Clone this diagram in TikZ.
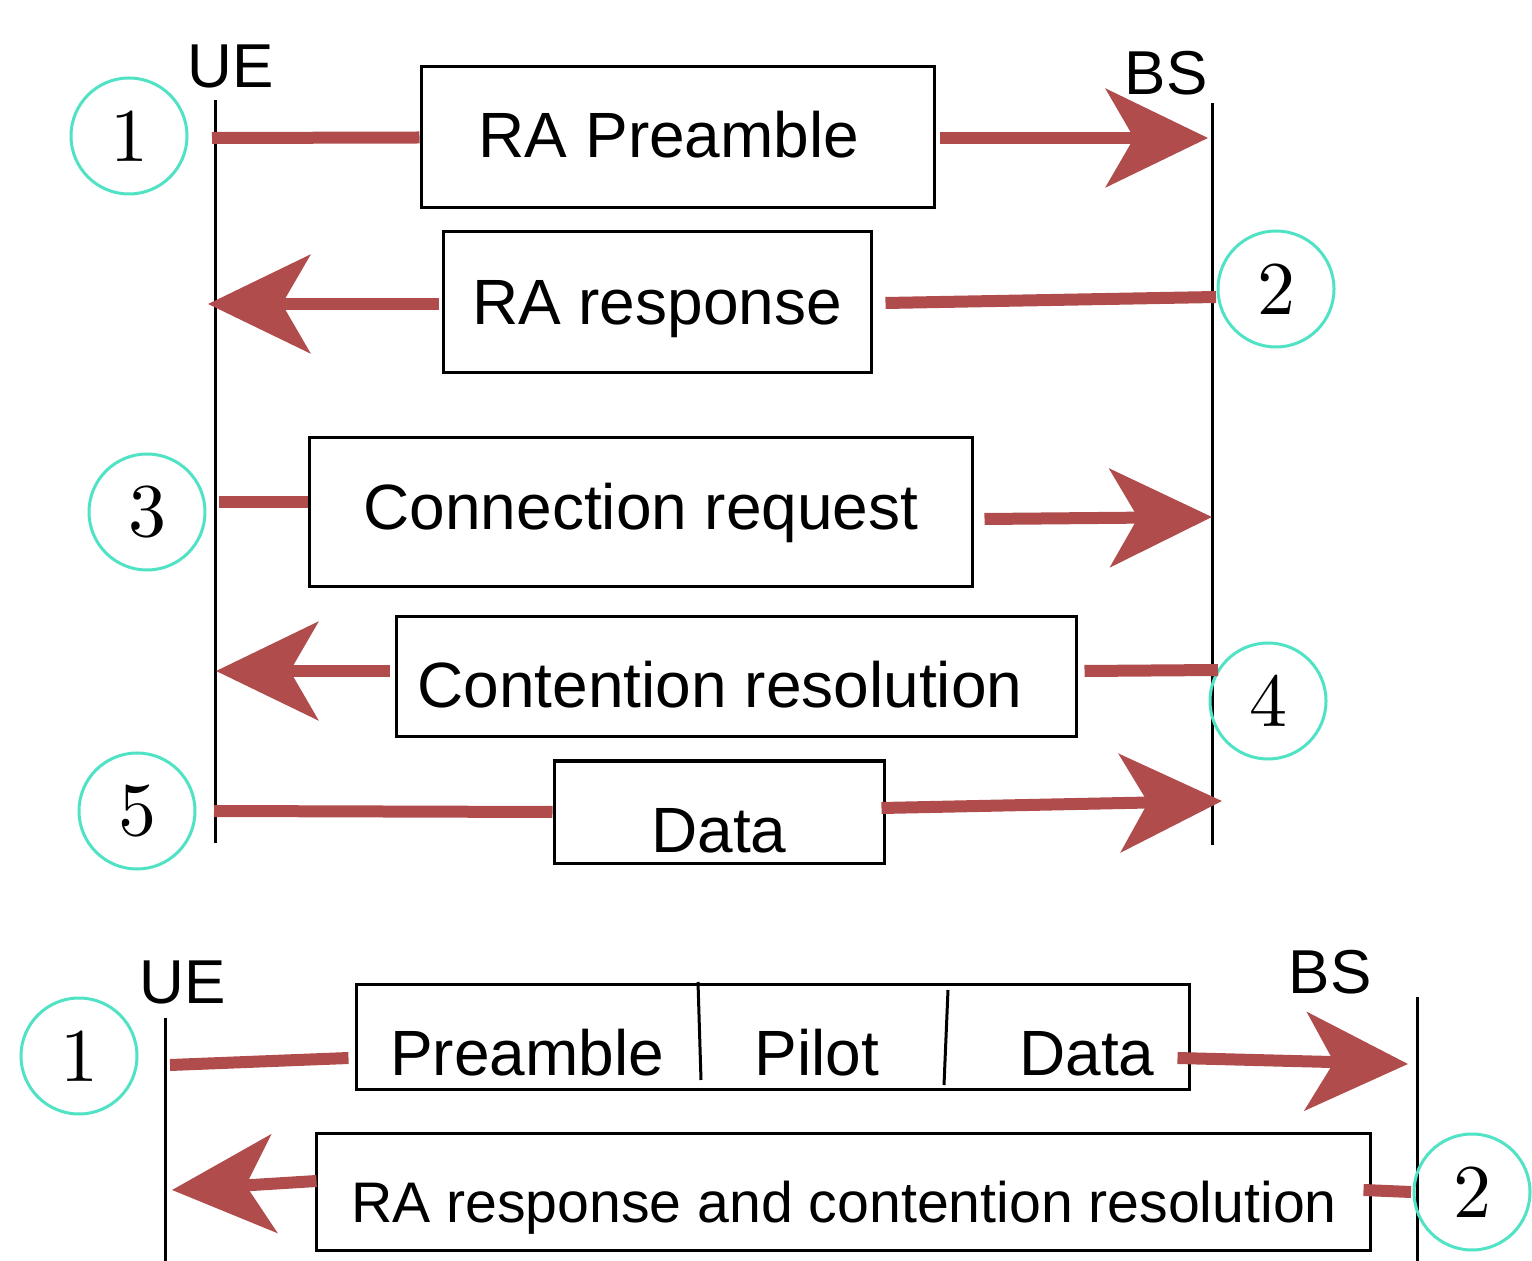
\documentclass[tikz,border=0pt]{standalone}
\usepackage{fontspec}
\newfontfamily\arialf{Liberation Sans}
\usetikzlibrary{arrows.meta,fit,calc}
\definecolor{msgred}{RGB}{176,76,76}
\definecolor{stepteal}{RGB}{80,226,196}
\newcommand{\stepdigit}[1]{\scalebox{3.8}{\fontsize{10}{12}\selectfont #1}}
\begin{document}
\begin{tikzpicture}[x=0.5pt,y=-0.5pt,
  life/.style={line width=1.5pt, black},
  msg/.style={line width=6pt, msgred},
  msgarrow/.style={msg, -{Stealth[length=51pt,width=49pt,inset=14pt]}},
  msgbox/.style={draw, line width=1.5pt, inner sep=0pt},
  msgtext/.style={anchor=base, inner sep=0pt, font=\arialf\fontsize{32}{38}\selectfont},
  smalltext/.style={anchor=base, inner sep=0pt, font=\arialf\fontsize{28.6}{34}\selectfont},
  actor/.style={anchor=base, inner sep=0pt, font=\arialf\fontsize{31}{36}\selectfont},
  stepnum/.style={circle, draw=stepteal, line width=1.5pt, minimum size=58pt, inner sep=0pt}
]
\useasboundingbox (0,0) rectangle (1532,1261);

% ---------- top diagram ----------
\node[actor] (ue1) at (231,88) {UE};
\node[actor] (bs1) at (1166,95) {BS};
\coordinate (ue1top) at (215,100);
\coordinate (ue1bot) at (215,843);
\coordinate (bs1top) at (1212,103);
\coordinate (bs1bot) at (1212,845);
\draw[life] (ue1top) -- (ue1bot);
\draw[life] (bs1top) -- (bs1bot);

% step 1
\node[stepnum] (s1) at (129,136) {\stepdigit{1}};
\node[msgbox, fit={(421,67) (934,208)}] (m1) {};
\node[msgtext] (t1) at (669,158) {RA Preamble};
\coordinate (a1s) at (212,138);
\coordinate (a1e) at (1208,138);
\draw[msg] (a1s) -- (m1.west);
\draw[msgarrow] ($(m1.east)+(4,0.5)$) -- (a1e);

% step 2
\node[stepnum] (s2) at (1276,289) {\stepdigit{2}};
\node[msgbox, fit={(443,232) (871,373)}] (m2) {};
\node[msgtext] (t2) at (657,325) {RA response};
\coordinate (a2s) at (1216,297);
\coordinate (a2e) at (208,304);
\draw[msg] (a2s) -- ($(m2.east)+(13,0.5)$);
\draw[msgarrow] ($(m2.west)+(-3,1.5)$) -- (a2e);

% step 3
\node[stepnum] (s3) at (147,512) {\stepdigit{3}};
\node[msgbox, fit={(309,438) (972,587)}] (m3) {};
\node[msgtext] (t3) at (641,530) {Connection request};
\coordinate (a3s) at (219,502);
\coordinate (a3e) at (1212,517);
\draw[msg] (a3s) -- ($(m3.west)+(0,-10.5)$);
\draw[msgarrow] ($(m3.east)+(11,6.5)$) -- (a3e);

% step 4
\node[stepnum] (s4) at (1268,701) {\stepdigit{4}};
\node[msgbox, fit={(396,617) (1076,737)}] (m4) {};
\node[msgtext] (t4) at (720,708) {Contention resolution};
\coordinate (a4s) at (1218,670);
\coordinate (a4e) at (216,671);
\draw[msg] (a4s) -- ($(m4.east)+(7,-6)$);
\draw[msgarrow] ($(m4.west)+(-5,-6)$) -- (a4e);

% step 5
\node[stepnum] (s5) at (137,811) {\stepdigit{5}};
\node[msgbox, fit={(554,761) (884,863)}] (m5) {};
\node[msgtext] (t5) at (719,852) {Data};
\coordinate (a5s) at (214,811);
\coordinate (a5e) at (1222,801);
\draw[msg] (a5s) -- (m5.west);
\draw[msgarrow] ($(m5.east)+(-4,-4)$) -- (a5e);

% ---------- bottom diagram ----------
\node[actor] (ue2) at (183,1003) {UE};
\node[actor] (bs2) at (1330,993) {BS};
\coordinate (ue2top) at (165,1018);
\coordinate (ue2bot) at (165,1261);
\coordinate (bs2top) at (1417,997);
\coordinate (bs2bot) at (1417,1261);
\draw[life] (ue2top) -- (ue2bot);
\draw[life] (bs2top) -- (bs2bot);

% step 1 (two-step)
\node[stepnum] (r1) at (79,1056) {\stepdigit{1}};
\node[msgbox, fit={(356,984) (1189,1089)}] (n1) {};
\draw[line width=1.5pt] (698,982) -- (701,1080);
\draw[line width=1.5pt] (948,990) -- (944,1085);
\node[msgtext] (u1) at (527,1075) {Preamble};
\node[msgtext] (u2) at (817,1075) {Pilot};
\node[msgtext] (u3) at (1087,1075) {Data};
\coordinate (b1s) at (170,1065);
\coordinate (b1e) at (1408,1064);
\draw[msg] (b1s) -- ($(n1.west)+(-6,21.5)$);
\draw[msgarrow] ($(n1.east)+(-13,21.5)$) -- (b1e);

% step 2 (two-step)
\node[stepnum] (r2) at (1472,1192) {\stepdigit{2}};
\node[msgbox, fit={(316,1133) (1370,1250)}] (n2) {};
\node[smalltext] (u4) at (844,1222) {RA response and contention resolution};
\coordinate (b2s) at (1411,1192);
\coordinate (b2e) at (172,1190);
\draw[msg] (b2s) -- ($(n2.east)+(-8,-1.5)$);
\draw[msgarrow] ($(n2.west)+(2,-10.5)$) -- (b2e);
\end{tikzpicture}
\end{document}
